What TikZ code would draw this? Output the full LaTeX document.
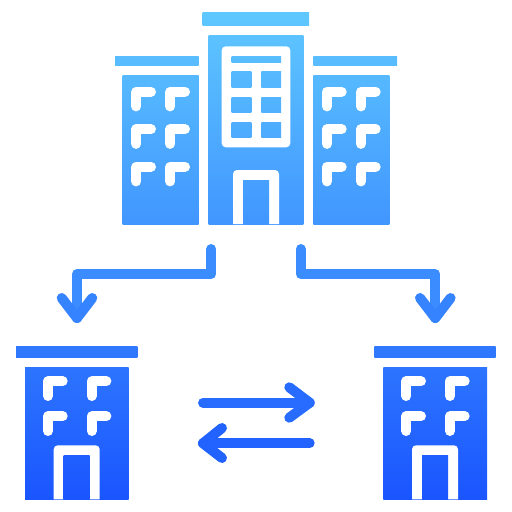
\documentclass[tikz,border=0pt]{standalone}
\usepackage{amsmath}
\definecolor{ramptop}{HTML}{5FC8FF}
\definecolor{rampbot}{HTML}{1A55FF}
% colours follow the height on the page
\tikzset{
    ramp/.code 2 args={%
        \pgfmathsetmacro\rampa{(#1-12)/4.88}%
        \pgfmathsetmacro\rampb{(#2-12)/4.88}%
        \colorlet{rampA}{rampbot!\rampa!ramptop}%
        \colorlet{rampB}{rampbot!\rampb!ramptop}%
        \pgfkeysalso{top color=rampA, bottom color=rampB}},
    ink/.code={%
        \pgfmathsetmacro\rampa{(#1-12)/4.88}%
        \colorlet{inkcol}{rampbot!\rampa!ramptop}%
        \pgfkeysalso{draw=inkcol}},
    flow/.style={line width=10pt, line cap=round, line join=round},
    pane/.style={draw=white, line width=10pt, line cap=round, line join=round}
}
% one L shaped window, x and y of its corner
\newcommand{\lwindow}[2]{\draw[pane] (#1+14.7,#2) -- (#1,#2) -- (#1,#2+14.7);}
% bar, x1 y1 x2 y2
\newcommand{\rampbar}[4]{\path[ramp={#2}{#4}] (#1,#2) rectangle (#3,#4);}
% door, x1 x2 of the white frame, its top, and the ground
\newcommand{\doorway}[4]{%
    \fill[white] (#1,#4) [rounded corners=4pt] -- (#1,#3) -- (#2,#3) [sharp corners] -- (#2,#4) -- cycle;
    \rampbar{#1+10}{#3+10}{#2-10}{#4}}
% small building
\newcommand{\smallhouse}{%
    \rampbar{16}{346.7}{137.3}{357.3}
    \rampbar{25}{367.3}{128.7}{499.3}
    \foreach \wx in {48,91.7} {
        \foreach \wy in {381.3,416.3} {
            \lwindow{\wx}{\wy}
        }
    }
    \doorway{53.7}{99.7}{445.3}{499.3}}

\begin{document}
\begin{tikzpicture}[x=1pt, y=-1pt]
\useasboundingbox (0,0) rectangle (512,512);

% Main block
\rampbar{202.7}{12.7}{309}{25}
\rampbar{208.7}{35}{303.3}{224}
\fill[white, rounded corners=4pt] (221.7,46.3) rectangle (290.3,147.3);
\rampbar{231.7}{56.3}{281}{62}
\foreach \wy/\wz in {71.3/87, 97/112.3, 122/137.3} {
    \rampbar{231.7}{\wy}{251.3}{\wz}
    \rampbar{261.3}{\wy}{281}{\wz}
}
\doorway{233}{279}{170}{224}

% Left wing
\rampbar{115}{56.7}{198.7}{65.3}
\rampbar{122.7}{75.3}{198.7}{224}
% Right wing
\rampbar{313.3}{56.7}{397}{65.3}
\rampbar{313.3}{75.3}{389.3}{224}
\foreach \wx in {136.3,170.3,327,361} {
    \foreach \wy in {91.7,129.2,166.7} {
        \lwindow{\wx}{\wy}
    }
}

% Lower buildings
\smallhouse
\begin{scope}[xshift=358.3pt]
\smallhouse
\end{scope}

% Arrows down from the main block
\coordinate (hqleft) at (211.3,249);
\coordinate (hqright) at (300.7,249);
\coordinate (tipleft) at (77,318);
\coordinate (tipright) at (435.3,318);
\draw[flow, ink=268] (hqleft) |- (77,274) -- (tipleft);
\draw[flow, ink=305] (61.7,298) -- (tipleft) -- (92.3,298);
\draw[flow, ink=268] (hqright) |- (435.3,274) -- (tipright);
\draw[flow, ink=305] (420,298) -- (tipright) -- (450.6,298);

% Exchange between the lower buildings
\coordinate (swapa) at (203,402.7);
\coordinate (swapb) at (309.7,402.7);
\coordinate (swapc) at (309.7,443.3);
\coordinate (swapd) at (203,443.3);
\draw[flow, ink=402.7] (swapa) -- (swapb);
\draw[flow, ink=402.7] (289.3,387.3) -- (swapb) -- (289.3,417.7);
\draw[flow, ink=443.3] (swapc) -- (swapd);
\draw[flow, ink=443.3] (222,428) -- (swapd) -- (222,458);
\end{tikzpicture}
\end{document}
